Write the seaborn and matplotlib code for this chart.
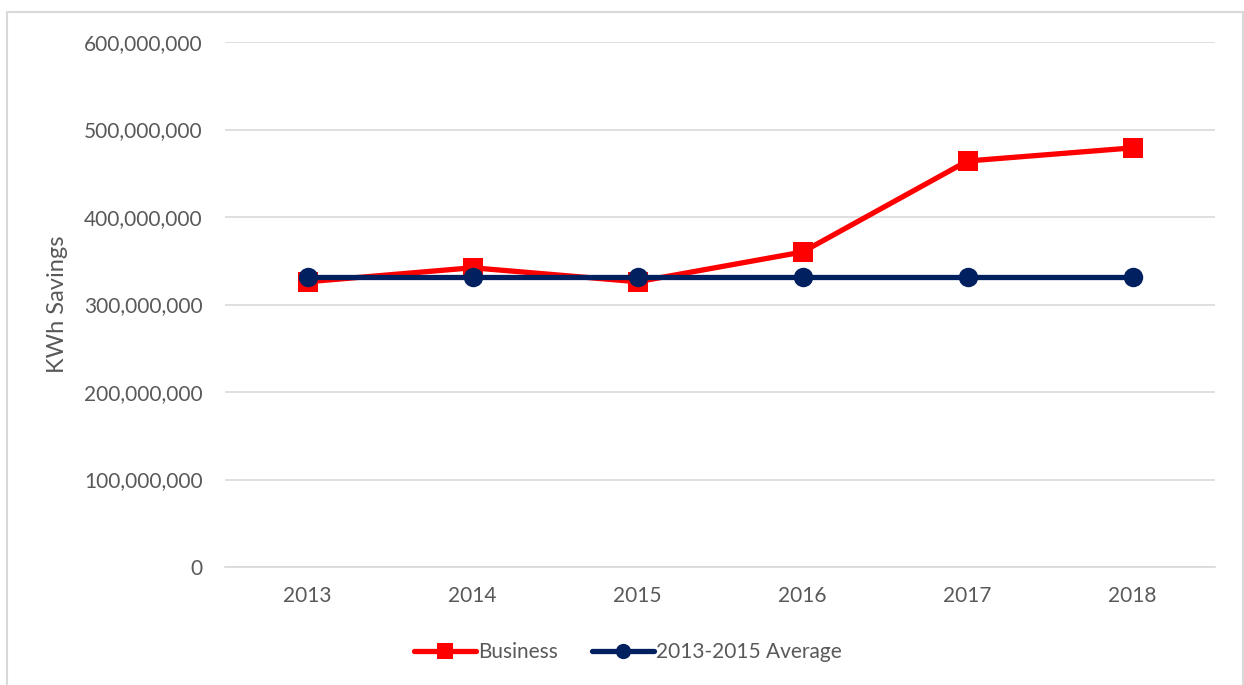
import matplotlib
matplotlib.use("Agg")
import matplotlib.pyplot as plt
import matplotlib.ticker as mticker
from matplotlib.lines import Line2D
import seaborn as sns
import pandas as pd

years = ["2013", "2014", "2015", "2016", "2017", "2018"]
business = [326_000_000, 342_000_000, 326_000_000, 360_000_000, 464_000_000, 479_000_000]
average = [331_000_000] * 6
series_names = ["Business", "2013-2015 Average"]

df = pd.DataFrame({
    "Year": years * 2,
    "Value": business + average,
    "Series": [series_names[0]] * 6 + [series_names[1]] * 6,
})

sns.set_theme(style="white")
plt.rcParams["font.family"] = ["Lato", "DejaVu Sans"]
grey = "#595959"
red = "#FF0000"
navy = "#002060"

fig = plt.figure(figsize=(12.44, 6.85), dpi=100)
ax = fig.add_axes([225/1244, 1-567/685, (1215-225)/1244, (567-42)/685])

sns.lineplot(data=df, x="Year", y="Value", hue="Series", style="Series",
             palette={series_names[0]: red, series_names[1]: navy},
             markers={series_names[0]: "s", series_names[1]: "o"},
             dashes=False, linewidth=3.8, markersize=14, markeredgewidth=0,
             sort=False, ax=ax, legend=False)

ax.set_xlim(-0.5, 5.5)
ax.set_ylim(0, 600_000_000)
ax.set_yticks(range(0, 600_000_001, 100_000_000))
ax.yaxis.set_major_formatter(mticker.FuncFormatter(lambda v, p: f"{int(v):,}"))
ax.grid(axis="y", color="#D9D9D9", linewidth=1.2)
ax.set_axisbelow(True)
for s in ["top", "right", "left"]:
    ax.spines[s].set_visible(False)
ax.spines["bottom"].set_color("#D9D9D9")
ax.spines["bottom"].set_linewidth(1.2)
ax.tick_params(axis="both", length=0, labelsize=15, colors=grey)
ax.tick_params(axis="y", pad=16)
ax.tick_params(axis="x", pad=14)
ax.set_xlabel("")
ax.set_ylabel("KWh Savings", fontsize=17, color=grey)
ax.yaxis.set_label_coords(-0.159, 0.5)

handles = [
    Line2D([], [], color=red, marker="s", linewidth=3.8, markersize=11, markeredgewidth=0),
    Line2D([], [], color=navy, marker="o", linewidth=3.8, markersize=11, markeredgewidth=0),
]
fig.legend(handles, series_names, loc="center", bbox_to_anchor=(628/1244, 1-652/685),
           ncol=2, frameon=False, fontsize=15, labelcolor=grey,
           handlelength=3.0, handletextpad=0.1, columnspacing=1.6)

# outer chart border
bc = "#D9D9D9"
fig.add_artist(Line2D([7/1244, 7/1244], [0, 1-12/685], color=bc, linewidth=1.5, transform=fig.transFigure))
fig.add_artist(Line2D([7/1244, 1243/1244], [1-12/685, 1-12/685], color=bc, linewidth=1.5, transform=fig.transFigure))
fig.add_artist(Line2D([1243/1244, 1243/1244], [0, 1-12/685], color=bc, linewidth=1.5, transform=fig.transFigure))

fig.savefig("out.png", dpi=100, facecolor="white")
